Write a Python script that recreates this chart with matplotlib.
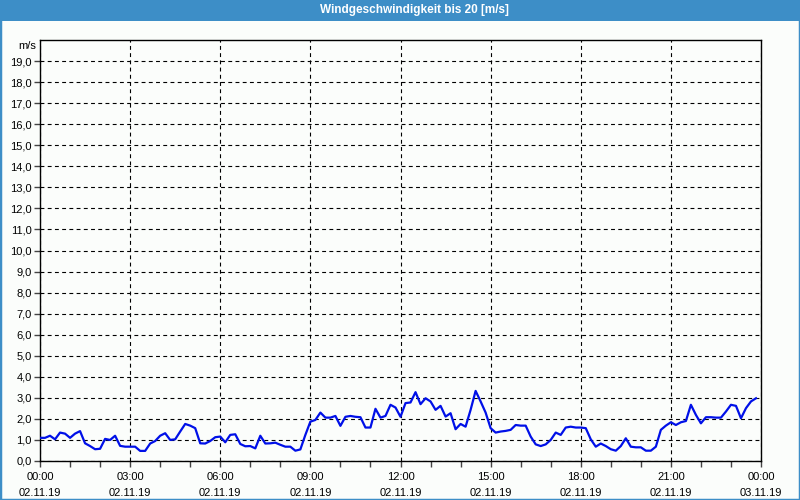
import numpy as np
import matplotlib
matplotlib.use('Agg')
import matplotlib.pyplot as plt
from matplotlib.patches import Rectangle

plt.rcParams['font.family'] = ['Liberation Sans', 'DejaVu Sans']

title = 'Windgeschwindigkeit bis 20 [m/s]'
# wind speed in m/s, one value every 10 minutes from 02.11.19 00:00
speed = [1.1, 1.1, 1.2, 1.03, 1.35, 1.3, 1.1, 1.3, 1.42, 0.84, 0.71, 0.56, 0.58, 1.05, 1.0, 1.2, 0.72, 0.68, 0.68, 0.68, 0.48, 0.48, 0.83, 0.95, 1.2,
         1.32, 1.0, 1.03, 1.4, 1.76, 1.68, 1.56, 0.84, 0.83, 0.95, 1.13, 1.16, 0.89, 1.24, 1.27, 0.81, 0.7, 0.71, 0.6, 1.2, 0.83, 0.84, 0.87, 0.77,
         0.68, 0.68, 0.49, 0.55, 1.24, 1.87, 1.95, 2.3, 2.06, 2.06, 2.14, 1.67, 2.1, 2.14, 2.1, 2.08, 1.59, 1.59, 2.48, 2.06, 2.14, 2.67, 2.54, 2.1,
         2.75, 2.78, 3.27, 2.7, 2.98, 2.83, 2.43, 2.62, 2.11, 2.27, 1.51, 1.76, 1.63, 2.43, 3.33, 2.83, 2.3, 1.56, 1.35, 1.4, 1.43, 1.48, 1.71, 1.68,
         1.68, 1.16, 0.79, 0.71, 0.79, 1.0, 1.35, 1.24, 1.59, 1.63, 1.59, 1.59, 1.56, 1.03, 0.68, 0.83, 0.71, 0.56, 0.49, 0.71, 1.08, 0.68, 0.65, 0.65,
         0.49, 0.49, 0.68, 1.48, 1.68, 1.84, 1.71, 1.84, 1.9, 2.67, 2.19, 1.79, 2.08, 2.08, 2.06, 2.06, 2.35, 2.67, 2.62, 2.03, 2.51, 2.83, 2.98]
hours = np.arange(len(speed)) / 6.0

xtick_hours = [0, 3, 6, 9, 12, 15, 18, 21, 24]
xtick_labels = ['00:00\n02.11.19', '03:00\n02.11.19', '06:00\n02.11.19', '09:00\n02.11.19',
                '12:00\n02.11.19', '15:00\n02.11.19', '18:00\n02.11.19', '21:00\n02.11.19',
                '00:00\n03.11.19']
yticks = list(range(0, 20))

bg = '#fbfdfb'
bar = '#3d8ec7'

fig = plt.figure(figsize=(8, 5), dpi=100, facecolor=bg)
ax = fig.add_axes([40/800, 1-461/500, 721/800, 421/500])
ax.set_facecolor(bg)

ax.plot(hours, speed, color='#0010e8', lw=1.6, zorder=3)

ax.set_xlim(0, 24)
ax.set_ylim(0, 20)
ax.set_xticks(xtick_hours)
ax.set_xticklabels(xtick_labels, fontsize=8, linespacing=1.75)
ax.set_xticks(range(0, 25), minor=True)
ax.set_yticks(yticks)
ax.yaxis.set_major_formatter(matplotlib.ticker.FuncFormatter(lambda v, p: ('%.1f' % v).replace('.', ',')))
ax.tick_params(axis='y', labelsize=8)
ax.tick_params(axis='both', which='both', direction='out', length=4, width=1, color='#444444', pad=2)
ax.tick_params(axis='x', pad=4)
for s in ax.spines.values():
    s.set_linewidth(1)
    s.set_color('black')

ax.grid(True, which='major', color='black', linestyle=(0, (3.5, 3)), linewidth=0.8)
ax.set_axisbelow(True)

fig.text(36/800, 1-46/500, 'm/s', ha='right', va='center', fontsize=8)

# title bar and frame
fig.patches.append(Rectangle((0, 1-21/500), 1, 21/500, transform=fig.transFigure,
                             facecolor=bar, edgecolor='none', zorder=0))
fig.patches.append(Rectangle((0, 0), 1, 1, transform=fig.transFigure,
                             facecolor='none', edgecolor=bar, lw=2.5, zorder=5))
fig.text(414/800, 1-10/500, title, ha='center', va='center', color='white', fontsize=8.5,
         weight='bold')

fig.savefig('out.png', dpi=100, facecolor=bg)
